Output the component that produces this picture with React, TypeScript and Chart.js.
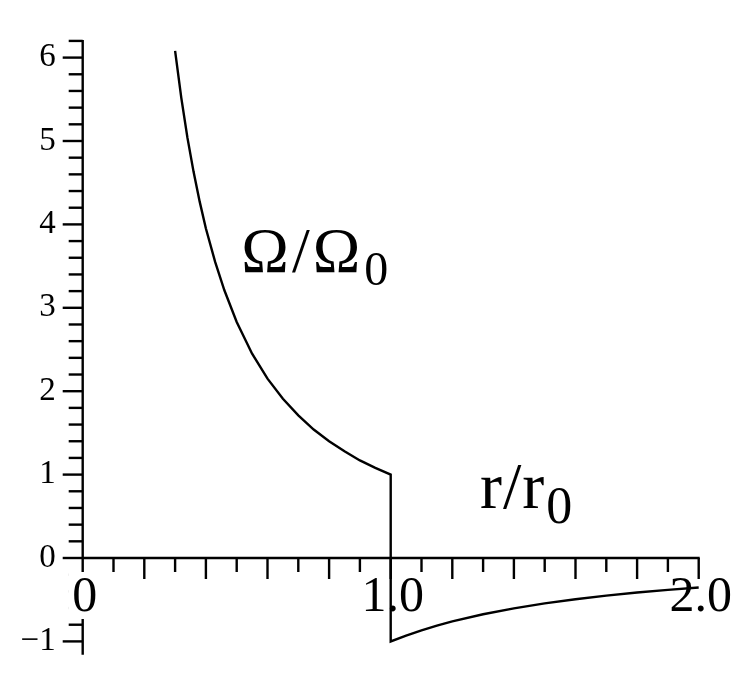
import { useEffect, useRef } from "react";
import { Chart, registerables } from "chart.js";

Chart.register(...registerables);

// r / r0 values (inner branch, jump at r = 1, outer branch)
const radius = [
  0.3, 0.32, 0.34, 0.36, 0.38, 0.4, 0.43, 0.46, 0.5, 0.55, 0.6, 0.65, 0.7, 0.75, 0.8, 0.85, 0.9, 0.95, 1.0,
  1.0, 1.05, 1.1, 1.15, 1.2, 1.3, 1.4, 1.5, 1.6, 1.7, 1.8, 1.9, 2.0,
];
// Omega / Omega0 values
const omega = [
  6.08, 5.52, 5.04, 4.63, 4.27, 3.95, 3.55, 3.21, 2.83, 2.45, 2.15, 1.91, 1.71, 1.54, 1.4, 1.28, 1.17, 1.08, 1.0,
  -1.0, -0.93, -0.867, -0.81, -0.76, -0.675, -0.604, -0.544, -0.494, -0.451, -0.414, -0.382, -0.354,
];

const xTickValues = [0, 1, 2];
const xTickLabels = ["0", "1.0", "2.0"];
const xMinorStep = 0.1;
const xAxisEnd = 2.0;

const yTickValues = [-1, 0, 1, 2, 3, 4, 5, 6];
const yTickLabels = ["\u22121", "0", "1", "2", "3", "4", "5", "6"];
const yMinorStep = 0.2;
const yAxisTop = 6.2;
const yAxisBottom = -1.16;

const curveLabel = { main: "\u03a9/\u03a9", sub: "0", x: 0.515, y: 3.43 };
const axisLabel = { main: "r/r", sub: "0", x: 1.29, y: 0.6 };

const FONT = '"Liberation Serif", "Times New Roman", serif';

const axesPlugin = {
  id: "mapleAxes",
  beforeDatasetsDraw(chart: any) {
    const ctx = chart.ctx as CanvasRenderingContext2D;
    const xs = chart.scales.x;
    const ys = chart.scales.y;
    const x0 = xs.getPixelForValue(0);
    const y0 = ys.getPixelForValue(0);
    ctx.save();
    ctx.strokeStyle = "#000";
    ctx.lineWidth = 2.4;
    ctx.lineCap = "butt";
    // y axis
    ctx.beginPath();
    ctx.moveTo(x0, ys.getPixelForValue(yAxisTop) - 1);
    ctx.lineTo(x0, ys.getPixelForValue(yAxisBottom));
    ctx.stroke();
    // x axis
    ctx.beginPath();
    ctx.moveTo(x0, y0);
    ctx.lineTo(xs.getPixelForValue(xAxisEnd) + 1, y0);
    ctx.stroke();
    // y ticks
    const nY = Math.round((yAxisTop - yAxisBottom) / yMinorStep) + 2;
    for (let i = -10; i < nY; i++) {
      const v = Math.round(i * yMinorStep * 10) / 10;
      if (v > yAxisTop + 1e-6 || v < yAxisBottom) continue;
      const isMajor = Math.abs(v - Math.round(v)) < 1e-6;
      const len = isMajor ? 20 : 14;
      const py = ys.getPixelForValue(v);
      ctx.beginPath();
      ctx.moveTo(x0 - len, py);
      ctx.lineTo(x0, py);
      ctx.stroke();
    }
    // x ticks
    const nX = Math.round(xAxisEnd / xMinorStep);
    for (let i = 1; i <= nX; i++) {
      const v = i * xMinorStep;
      const len = i % 2 === 0 ? 21 : 14;
      const px = xs.getPixelForValue(v);
      ctx.beginPath();
      ctx.moveTo(px, y0);
      ctx.lineTo(px, y0 + len);
      ctx.stroke();
    }
    ctx.restore();
  },
  afterDatasetsDraw(chart: any) {
    const ctx = chart.ctx as CanvasRenderingContext2D;
    const xs = chart.scales.x;
    const ys = chart.scales.y;
    const x0 = xs.getPixelForValue(0);
    const y0 = ys.getPixelForValue(0);
    ctx.save();
    ctx.fillStyle = "#000";
    // y tick labels
    ctx.font = `33px ${FONT}`;
    ctx.textAlign = "right";
    ctx.textBaseline = "middle";
    yTickValues.forEach((v, i) => {
      ctx.fillText(yTickLabels[i], x0 - 27, ys.getPixelForValue(v));
    });
    // x tick labels
    ctx.font = `50px ${FONT}`;
    ctx.textAlign = "center";
    ctx.textBaseline = "alphabetic";
    const base = y0 + 53;
    xTickValues.forEach((v, i) => {
      const px = xs.getPixelForValue(v);
      if (v === 0) {
        const m = ctx.measureText(xTickLabels[i]);
        ctx.fillStyle = "#fff";
        ctx.fillRect(px - m.width / 2 - 2, base - m.actualBoundingBoxAscent - 6, m.width + 4, m.actualBoundingBoxAscent + 14);
        ctx.fillStyle = "#000";
      }
      ctx.fillText(xTickLabels[i], px + 2, base);
    });
    // curve and axis labels
    ctx.textAlign = "left";
    const drawLabel = (lab: any, mainSize: number, subSize: number, subDrop: number, spacing: number) => {
      const px = xs.getPixelForValue(lab.x);
      const py = ys.getPixelForValue(lab.y);
      ctx.font = `${mainSize}px ${FONT}`;
      (ctx as any).letterSpacing = `${spacing}px`;
      ctx.fillText(lab.main, px, py);
      const w = ctx.measureText(lab.main).width;
      (ctx as any).letterSpacing = "0px";
      ctx.font = `${subSize}px ${FONT}`;
      ctx.fillText(lab.sub, px + w + 1, py + subDrop);
    };
    drawLabel(curveLabel, 64, 48, 13, 3);
    drawLabel(axisLabel, 66, 52, 15, 1);
    ctx.restore();
  },
};

export default function App() {
  const canvasRef = useRef<HTMLCanvasElement | null>(null);

  useEffect(() => {
    if (!canvasRef.current) return;
    const chart = new Chart(canvasRef.current, {
      type: "scatter",
      data: {
        datasets: [
          {
            data: radius.map((r, i) => ({ x: r, y: omega[i] })),
            showLine: true,
            borderColor: "#000",
            borderWidth: 2.4,
            pointRadius: 0,
            tension: 0,
            fill: false,
            clip: false as any,
          },
        ],
      },
      options: {
        animation: false,
        responsive: true,
        maintainAspectRatio: false,
        layout: { padding: { left: 82.7, right: 54.3, top: 32.58, bottom: 34.92 } },
        plugins: { legend: { display: false }, tooltip: { enabled: false } },
        scales: {
          x: { type: "linear", min: 0, max: 2, display: false },
          y: { type: "linear", min: -1.2, max: 6.3, display: false },
        },
      },
      plugins: [axesPlugin],
    });
    return () => chart.destroy();
  }, []);

  return (
    <div style={{ position: "fixed", left: 0, top: 0, width: 753, height: 693, background: "#fff" }}>
      <canvas ref={canvasRef} />
    </div>
  );
}
